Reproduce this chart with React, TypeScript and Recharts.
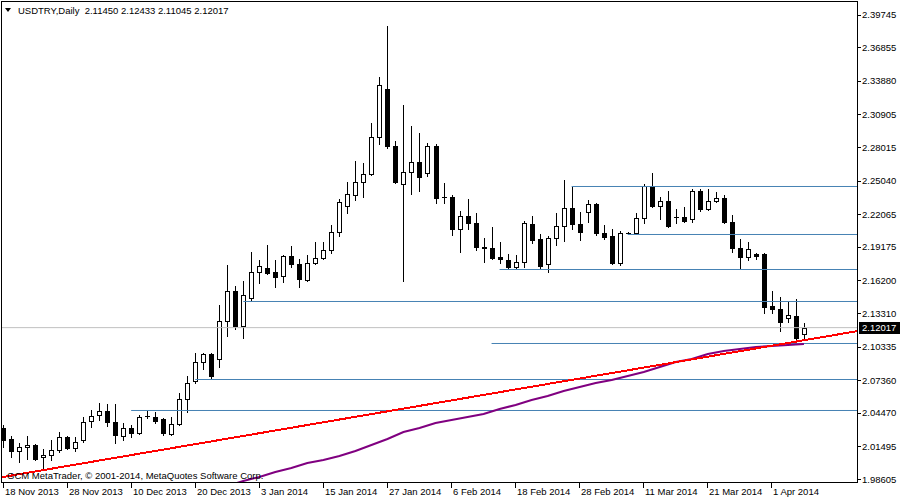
import { ComposedChart, Bar, Line, XAxis, YAxis, ReferenceLine } from "recharts";

// USDTRY daily candles, 18 Nov 2013 .. 7 Apr 2014 (bar index 0..100)
const OPEN = [
  2.0313, 2.0215, 2.0109, 2.0145, 2.0162, 2.0056, 2.0074, 2.0118, 2.0233, 2.0136,
  2.0207, 2.0375, 2.0428, 2.0464, 2.0366, 2.0242, 2.0313, 2.0269, 2.0419, 2.041,
  2.0393, 2.026, 2.0348, 2.057, 2.073, 2.0898, 2.0969, 2.0924, 2.1261, 2.1527,
  2.1217, 2.1465, 2.1695, 2.1731, 2.1695, 2.166, 2.1837, 2.1766, 2.1624, 2.1775,
  2.1819, 2.189, 2.2049, 2.228, 2.2377, 2.2493, 2.2563, 2.2891, 2.3316, 2.2811,
  2.2475, 2.2581, 2.267, 2.2572, 2.2811, 2.236, 2.236, 2.2076, 2.2191, 2.2129,
  2.1912, 2.1908, 2.1828, 2.1801, 2.1739, 2.1784, 2.212, 2.1987, 2.1766, 2.1996,
  2.2102, 2.2262, 2.212, 2.2227, 2.2298, 2.2041, 2.2014, 2.1775, 2.2041, 2.2041,
  2.2174, 2.2457, 2.228, 2.2324, 2.2186, 2.2182, 2.2165, 2.2413, 2.2253, 2.2324,
  2.2351, 2.2138, 2.1908, 2.1828, 2.1855, 2.1855, 2.1394, 2.1367, 2.1288, 2.1305,
  2.1145,
];
const HIGH = [
  2.0339, 2.0242, 2.018, 2.0242, 2.0171, 2.0127, 2.0207, 2.0277, 2.0242, 2.0233,
  2.041, 2.0472, 2.0534, 2.0525, 2.0525, 2.0357, 2.0339, 2.0428, 2.0464, 2.0455,
  2.0401, 2.041, 2.0623, 2.0774, 2.0977, 2.0977, 2.0977, 2.1403, 2.1757, 2.1571,
  2.1615, 2.1872, 2.1801, 2.1934, 2.1801, 2.1846, 2.1925, 2.181, 2.1846, 2.1961,
  2.1961, 2.2112, 2.2342, 2.2493, 2.2679, 2.2661, 2.3015, 2.3423, 2.3875, 2.2856,
  2.3175, 2.2989, 2.2927, 2.2838, 2.2829, 2.2484, 2.2377, 2.2236, 2.2342, 2.2218,
  2.1996, 2.2094, 2.1961, 2.1855, 2.1846, 2.2147, 2.2191, 2.2032, 2.2014, 2.2218,
  2.251, 2.2448, 2.2227, 2.2333, 2.2306, 2.2112, 2.2076, 2.2058, 2.2049, 2.2218,
  2.2475, 2.2572, 2.236, 2.2413, 2.2253, 2.2271, 2.243, 2.243, 2.243, 2.2404,
  2.2377, 2.22, 2.1987, 2.1961, 2.1864, 2.1864, 2.1527, 2.1474, 2.1429, 2.1456,
  2.12433,
];
const LOW = [
  2.0145, 2.0056, 2.0012, 2.0038, 2.0029, 1.9941, 2.0029, 2.01, 2.0127, 2.0109,
  2.0189, 2.0322, 2.0384, 2.0331, 2.018, 2.0207, 2.0233, 2.026, 2.0401, 2.0357,
  2.0251, 2.0251, 2.0339, 2.0455, 2.0712, 2.0836, 2.0756, 2.0853, 2.1128, 2.119,
  2.111, 2.1438, 2.1598, 2.1677, 2.1562, 2.1607, 2.1739, 2.1562, 2.1615, 2.1766,
  2.181, 2.1863, 2.2014, 2.2218, 2.2333, 2.236, 2.2555, 2.2829, 2.2794, 2.2484,
  2.1615, 2.2386, 2.2413, 2.2546, 2.2306, 2.2306, 2.2023, 2.1872, 2.2076, 2.189,
  2.1784, 2.181, 2.1775, 2.1722, 2.1722, 2.1739, 2.1952, 2.1722, 2.1695, 2.1934,
  2.197, 2.2076, 2.1979, 2.2138, 2.2023, 2.1987, 2.1766, 2.1757, 2.2032, 2.2032,
  2.2129, 2.2271, 2.2165, 2.2094, 2.2129, 2.2138, 2.2138, 2.2236, 2.2244, 2.2315,
  2.2129, 2.1872, 2.1731, 2.1801, 2.181, 2.1332, 2.1332, 2.1172, 2.1252, 2.1101,
  2.11045,
];
const CLOSE = [
  2.0207, 2.0109, 2.0145, 2.0162, 2.0038, 2.0074, 2.0118, 2.0233, 2.0136, 2.0189,
  2.0366, 2.0419, 2.0464, 2.0366, 2.0251, 2.0313, 2.0269, 2.041, 2.0417, 2.0375,
  2.0269, 2.0348, 2.057, 2.0712, 2.0898, 2.0969, 2.0774, 2.1261, 2.1527, 2.1217,
  2.1491, 2.1695, 2.1748, 2.1686, 2.1651, 2.1837, 2.1766, 2.1633, 2.1775, 2.1819,
  2.189, 2.2049, 2.2315, 2.2386, 2.2493, 2.2563, 2.2891, 2.3352, 2.2811, 2.2493,
  2.2581, 2.267, 2.2537, 2.2811, 2.2351, 2.2356, 2.2076, 2.2191, 2.2129, 2.1917,
  2.1908, 2.1819, 2.181, 2.1739, 2.1784, 2.2129, 2.1979, 2.1748, 2.1996, 2.2102,
  2.2262, 2.212, 2.2049, 2.2298, 2.2041, 2.2005, 2.1775, 2.2041, 2.2039, 2.2174,
  2.2457, 2.228, 2.2324, 2.2102, 2.2182, 2.2147, 2.2413, 2.2253, 2.2324, 2.2351,
  2.2138, 2.1908, 2.1828, 2.1899, 2.1837, 2.1385, 2.1367, 2.1252, 2.1314, 2.111,
  2.12017,
];

// moving average (purple), read every second bar
const MA_BARS = [
  28, 30, 32, 34, 36, 38, 40, 42, 44, 46, 48, 50, 52, 54, 56, 58, 60, 62, 64,
  66, 68, 70, 72, 74, 76, 78, 80, 82, 84, 86, 88, 90, 92, 94, 96, 98, 100,
];
const MA_VALUES = [
  1.97985, 1.98428, 1.98783, 1.99226, 1.9958, 2.00023, 2.00289, 2.00643, 2.01086,
  2.01618, 2.02149, 2.0277, 2.03124, 2.03567, 2.03833, 2.04099, 2.04365, 2.04808,
  2.05162, 2.05605, 2.05961, 2.06402, 2.06757, 2.07111, 2.07377, 2.07731, 2.08086,
  2.08529, 2.08972, 2.09238, 2.09681, 2.09947, 2.10124, 2.10301, 2.10389, 2.10478,
  2.10567,
];

const DATE_TICKS = [0, 8, 16, 24, 32, 40, 48, 56, 64, 72, 80, 88, 96];
const DATE_LABELS = [
  "18 Nov 2013", "28 Nov 2013", "10 Dec 2013", "20 Dec 2013", "3 Jan 2014",
  "15 Jan 2014", "27 Jan 2014", "6 Feb 2014", "18 Feb 2014", "28 Feb 2014",
  "11 Mar 2014", "21 Mar 2014", "1 Apr 2014",
];
const PRICE_TICKS = [
  2.39745, 2.36855, 2.3388, 2.30905, 2.28015, 2.2504, 2.22065, 2.19175, 2.162,
  2.1331, 2.10335, 2.0736, 2.0447, 2.01495, 1.98605,
];

// horizontal levels: first bar and price
const LEVEL_START = [16, 24, 30, 61, 62, 71, 78];
const LEVEL_PRICE = [2.04675, 2.07421, 2.14332, 2.10611, 2.17167, 2.24521, 2.20268];

const TREND_X = [-0.25, 106.75];
const TREND_Y = [1.98756, 2.11718];
const LAST_PRICE = 2.12017;

const X_DOMAIN = [-0.25, 106.75];
const Y_DOMAIN = [1.98251, 2.40956];
const FONT = "'Liberation Sans', Arial, sans-serif";

const data = OPEN.map((o, i) => ({
  i,
  o,
  h: HIGH[i],
  l: LOW[i],
  c: CLOSE[i],
  range: [LOW[i], HIGH[i]],
  ma: MA_VALUES[MA_BARS.indexOf(i)],
}));

function Candle(props: any) {
  const { x, y, width, height, payload } = props;
  if (!payload || payload.h == null) return null;
  const top = Math.min(y, y + height);
  const h = Math.abs(height);
  const k = h / (payload.h - payload.l || 1);
  const cx = Math.floor(x + width / 2) + 0.5;
  const py = (v: number) => top + (payload.h - v) * k;
  const up = payload.c >= payload.o;
  const bTop = Math.round(py(Math.max(payload.o, payload.c))) + 0.5;
  const bBot = Math.round(py(Math.min(payload.o, payload.c))) + 0.5;
  return (
    <g>
      <line x1={cx} x2={cx} y1={Math.round(top)} y2={Math.round(top + h) + 1} stroke="#000" />
      {bBot - bTop < 1 ? (
        <line x1={cx - 2.5} x2={cx + 2.5} y1={bTop} y2={bTop} stroke="#000" />
      ) : (
        <rect x={cx - 2} y={bTop} width={4} height={bBot - bTop} fill={up ? "#fff" : "#000"} stroke="#000" />
      )}
    </g>
  );
}

function DateTick(props: any) {
  const { x, payload } = props;
  const label = DATE_LABELS[DATE_TICKS.indexOf(payload.value)];
  const px = Math.floor(x) + 0.5;
  return (
    <g>
      <line x1={px} x2={px} y1={483} y2={488} stroke="#000" />
      <text x={px + 1.5} y={495} fontSize={9.5} fill="#000" fontFamily={FONT}>
        {label}
      </text>
    </g>
  );
}

function PriceTick(props: any) {
  const { y, payload } = props;
  const py = Math.round(y) + 0.5;
  return (
    <g>
      <line x1={857} x2={861} y1={py} y2={py} stroke="#000" />
      <text x={862} y={y} dy={3.5} fontSize={9.5} fill="#000" fontFamily={FONT}>
        {Number(payload.value).toFixed(5)}
      </text>
    </g>
  );
}

function PriceBox(props: any) {
  const vb = props.viewBox || {};
  const x = (vb.x || 0) + (vb.width || 0) + 1;
  const y = vb.y || 0;
  return (
    <g>
      <rect x={x} y={Math.round(y) - 6} width={42} height={12} fill="#000" />
      <text x={x + 3} y={y} dy={3.5} fontSize={9.5} fill="#fff" fontFamily={FONT}>
        {LAST_PRICE.toFixed(5)}
      </text>
    </g>
  );
}

export default function App() {
  return (
    <div style={{ position: "absolute", left: 0, top: 0, width: 900, height: 500, background: "#fff", fontFamily: FONT }}>
      <ComposedChart width={900} height={500} data={data} margin={{ top: 1, right: 0, bottom: 0, left: 1 }}>
        <XAxis
          type="number"
          dataKey="i"
          domain={X_DOMAIN}
          allowDataOverflow
          ticks={DATE_TICKS}
          interval={0}
          height={17}
          axisLine={false}
          tickLine={false}
          tick={<DateTick />}
        />
        <YAxis
          orientation="right"
          type="number"
          domain={Y_DOMAIN}
          allowDataOverflow
          ticks={PRICE_TICKS}
          interval={0}
          width={42}
          axisLine={false}
          tickLine={false}
          tick={<PriceTick />}
        />
        {LEVEL_PRICE.map((p, k) => (
          <ReferenceLine
            key={k}
            segment={[{ x: LEVEL_START[k], y: p }, { x: X_DOMAIN[1], y: p }]}
            stroke="#4682B4"
            strokeWidth={1}
          />
        ))}
        <ReferenceLine y={LAST_PRICE} stroke="#C0C0C0" strokeWidth={1} label={<PriceBox />} />
        <Line dataKey="ma" stroke="#800080" strokeWidth={2} dot={false} connectNulls isAnimationActive={false} />
        <ReferenceLine
          segment={[{ x: TREND_X[0], y: TREND_Y[0] }, { x: TREND_X[1], y: TREND_Y[1] }]}
          stroke="#FF0000"
          strokeWidth={2}
          shapeRendering="crispEdges"
        />
        <Bar dataKey="range" barSize={5} shape={<Candle />} isAnimationActive={false} />
      </ComposedChart>
      <svg width={900} height={500} style={{ position: "absolute", left: 0, top: 0, pointerEvents: "none" }}>
        <polygon points="5,8 11,8 8,12" fill="#000" />
        <text x={18} y={14} fontSize={9.5} fill="#000" fontFamily={FONT} style={{ whiteSpace: "pre" }}>
          {"USDTRY,Daily  2.11450 2.12433 2.11045 2.12017"}
        </text>
        <text x={7} y={478.5} fontSize={9.5} fill="#000" fontFamily={FONT}>
          GCM MetaTrader, © 2001-2014, MetaQuotes Software Corp.
        </text>
      </svg>
      <div
        style={{
          position: "absolute",
          left: 1,
          top: 1,
          width: 857,
          height: 482,
          boxSizing: "border-box",
          border: "1px solid #000",
          pointerEvents: "none",
        }}
      />
    </div>
  );
}
